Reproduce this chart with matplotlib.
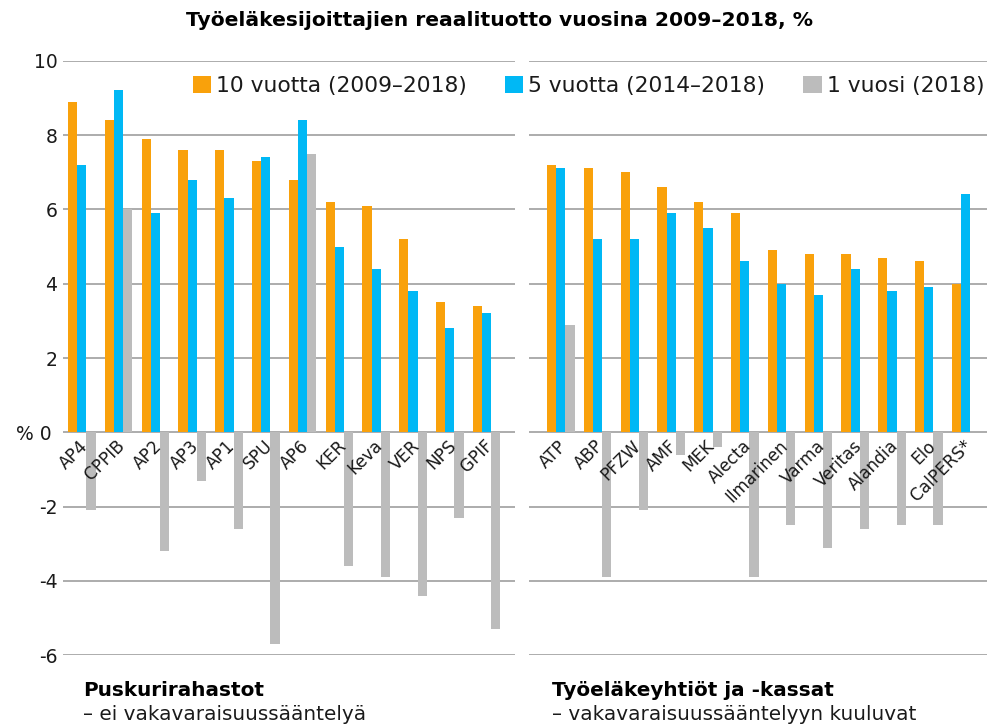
import matplotlib
matplotlib.use("Agg")
from matplotlib import pyplot as plt
from matplotlib import transforms
from matplotlib.patches import Patch
import numpy as np

plt.rcParams['font.family'] = ['DejaVu Sans']
plt.rcParams['text.color'] = '#1a1a1a'
plt.rcParams['ytick.color'] = '#1a1a1a'

# Puskurirahastot
left_names = ['AP4', 'CPPIB', 'AP2', 'AP3', 'AP1', 'SPU', 'AP6', 'KER', 'Keva', 'VER', 'NPS', 'GPIF']
left_10y = [8.9, 8.4, 7.9, 7.6, 7.6, 7.3, 6.8, 6.2, 6.1, 5.2, 3.5, 3.4]
left_5y = [7.2, 9.2, 5.9, 6.8, 6.3, 7.4, 8.4, 5.0, 4.4, 3.8, 2.8, 3.2]
left_1y = [-2.1, 6.0, -3.2, -1.3, -2.6, -5.7, 7.5, -3.6, -3.9, -4.4, -2.3, -5.3]

# Työeläkeyhtiöt ja -kassat
right_names = ['ATP', 'ABP', 'PFZW', 'AMF', 'MEK', 'Alecta', 'Ilmarinen', 'Varma', 'Veritas', 'Alandia', 'Elo', 'CalPERS*']
right_10y = [7.2, 7.1, 7.0, 6.6, 6.2, 5.9, 4.9, 4.8, 4.8, 4.7, 4.6, 4.0]
right_5y = [7.1, 5.2, 5.2, 5.9, 5.5, 4.6, 4.0, 3.7, 4.4, 3.8, 3.9, 6.4]
right_1y = [2.9, -3.9, -2.1, -0.6, -0.4, -3.9, -2.5, -3.1, -2.6, -2.5, -2.5, 0.0]

series_names = ['10 vuotta (2009–2018)', '5 vuotta (2014–2018)', '1 vuosi (2018)']
colors = ['#F9A10B', '#00B8F5', '#BCBCBC']
yticks = [-6, -4, -2, 0, 2, 4, 6, 8, 10]
ytick_labels = ['-6', '-4', '-2', '% 0', '2', '4', '6', '8', '10']

W, H = 1001, 727
fig = plt.figure(figsize=(W / 100, H / 100), dpi=100)

def px_axes(x0, x1, y_top, y_bot):
    return fig.add_axes([x0 / W, 1 - y_bot / H, (x1 - x0) / W, (y_bot - y_top) / H])

ax1 = px_axes(63, 515, 60.7, 655.3)
ax2 = px_axes(529, 987, 60.7, 655.3)

bw = 0.25
for ax, names, s10, s5, s1, xl in [
        (ax1, left_names, left_10y, left_5y, left_1y, (-0.51, 11.77)),
        (ax2, right_names, right_10y, right_5y, right_1y, (-0.864, 11.58))]:
    x = np.arange(len(names))
    for k, vals in enumerate([s10, s5, s1]):
        ax.bar(x + (k - 1) * bw, vals, width=bw, color=colors[k], zorder=3)
    ax.set_xlim(*xl)
    ax.set_ylim(-6, 10)
    ax.set_yticks(yticks)
    ax.grid(axis='y', color='#a6a6a6', linewidth=1.3, zorder=0)
    ax.set_xticks([])
    ax.tick_params(axis='y', length=0, labelsize=13.5, pad=4)
    for sp in ax.spines.values():
        sp.set_visible(False)
    for i, name in enumerate(names):
        ax.text(i - 0.07, -0.12, name, rotation=45, ha='right', va='top',
                rotation_mode='anchor', fontsize=12.2)

ax1.set_yticklabels(ytick_labels)
ax2.set_yticklabels([])
# "% 0" sits a bit left of the other labels
zero_lab = ax1.get_yticklabels()[3]
zero_lab.set_transform(zero_lab.get_transform() +
                       transforms.ScaledTranslation(-6 / 100, 0, fig.dpi_scale_trans))

handles = [Patch(facecolor=c, edgecolor='none') for c in colors]
fig.legend(handles, series_names, loc='center', bbox_to_anchor=(588.5 / W, 1 - 86 / H),
           ncol=3, frameon=False, fontsize=15.7, handlelength=0.84, handleheight=0.84,
           handletextpad=0.23, columnspacing=1.75, borderpad=0, borderaxespad=0)

fig.text(500 / W, 1 - 20 / H, 'Työeläkesijoittajien reaalituotto vuosina 2009–2018, %',
         ha='center', va='center', fontsize=14.6, fontweight='bold', color='black')

fig.text(83 / W, 1 - 690 / H, 'Puskurirahastot', ha='left', va='center',
         fontsize=14.4, fontweight='bold', color='black')
fig.text(83 / W, 1 - 715 / H, '– ei vakavaraisuussääntelyä', ha='left', va='center',
         fontsize=14.4)
fig.text(552 / W, 1 - 690 / H, 'Työeläkeyhtiöt ja -kassat', ha='left', va='center',
         fontsize=14.4, fontweight='bold', color='black')
fig.text(552 / W, 1 - 715 / H, '– vakavaraisuussääntelyyn kuuluvat', ha='left', va='center',
         fontsize=14.4)

fig.savefig('out.png', dpi=100)
